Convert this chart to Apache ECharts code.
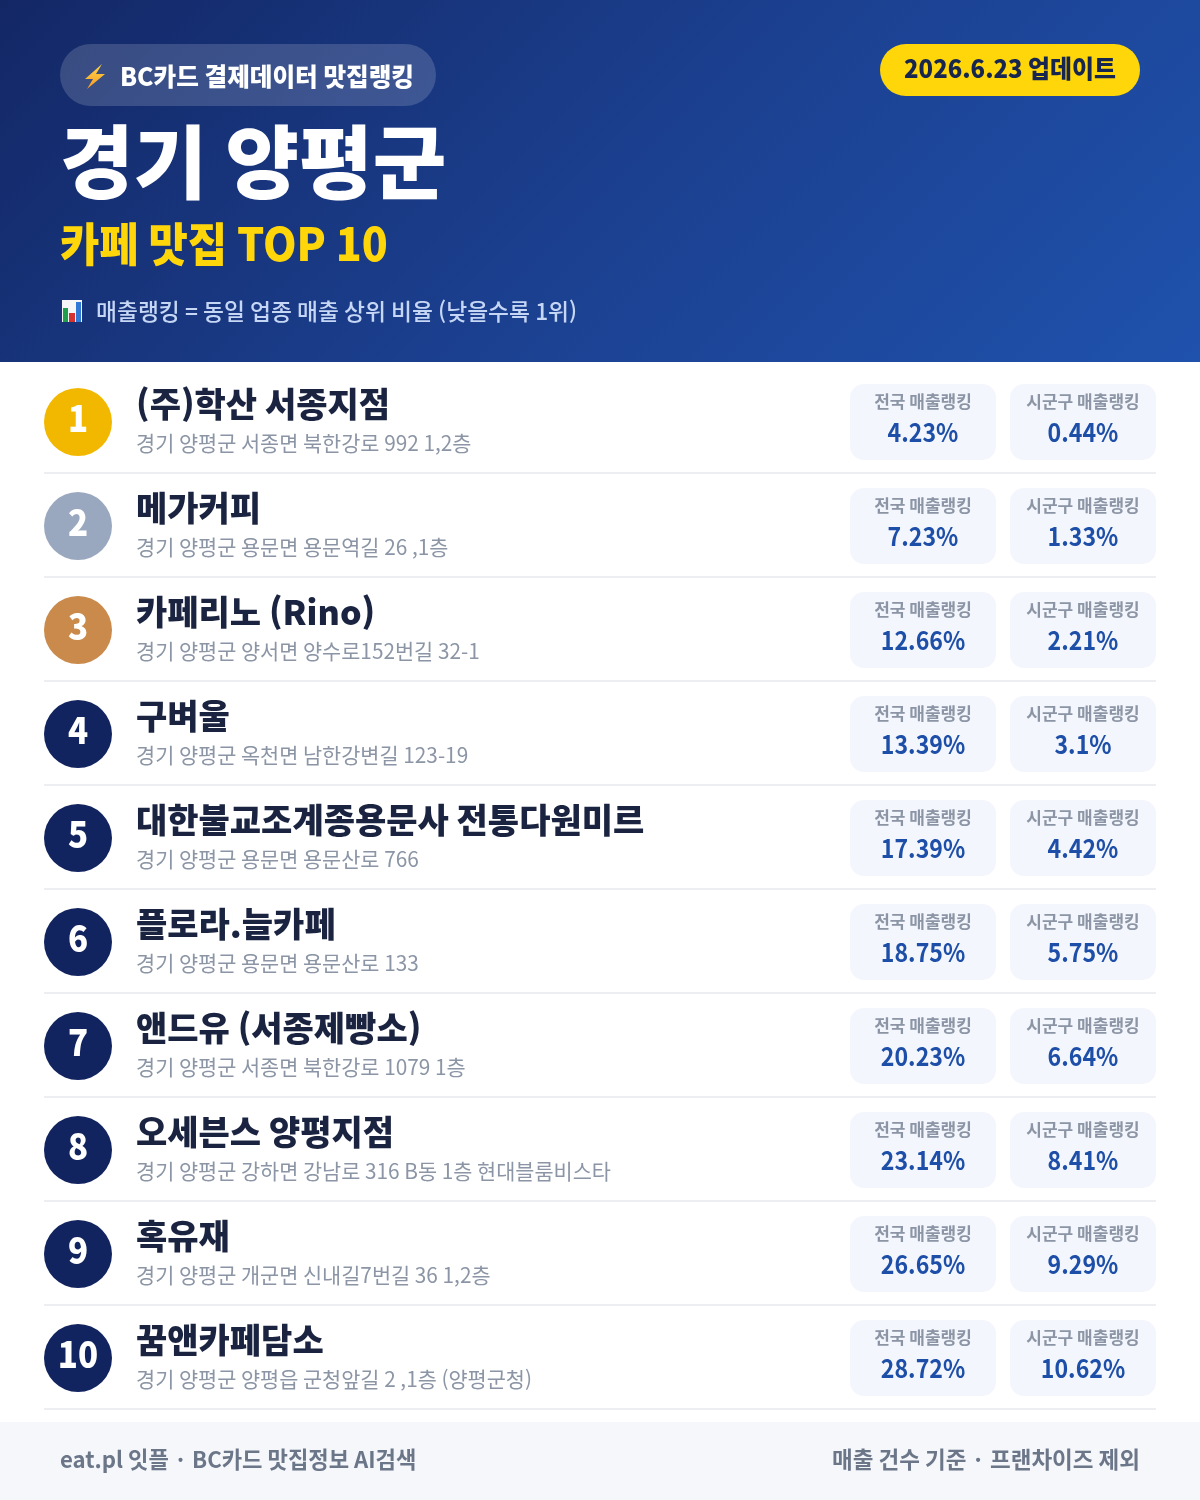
<!DOCTYPE html>
<html lang="ko">
<head>
<meta charset="utf-8">
<title>경기 양평군 카페 맛집 TOP 10</title>
<script src="https://cdn.jsdelivr.net/npm/echarts@6/dist/echarts.min.js"></script>
<style>
html, body { margin: 0; padding: 0; background: #fff; }
#chart { width: 1200px; height: 1500px; }
</style>
</head>
<body>
<div id="chart"></div>
<script>
const ranks = ['1', '2', '3', '4', '5', '6', '7', '8', '9', '10'];
const names = ['(주)학산 서종지점', '메가커피', '카페리노 (Rino)', '구벼울', '대한불교조계종용문사 전통다원미르',
  '플로라.늘카페', '앤드유 (서종제빵소)', '오세븐스 양평지점', '혹유재', '꿈앤카페담소'];
const addresses = ['경기 양평군 서종면 북한강로 992 1,2층', '경기 양평군 용문면 용문역길 26 ,1층', '경기 양평군 양서면 양수로152번길 32-1',
  '경기 양평군 옥천면 남한강변길 123-19', '경기 양평군 용문면 용문산로 766', '경기 양평군 용문면 용문산로 133',
  '경기 양평군 서종면 북한강로 1079 1층', '경기 양평군 강하면 강남로 316 B동 1층 현대블룸비스타', '경기 양평군 개군면 신내길7번길 36 1,2층',
  '경기 양평군 양평읍 군청앞길 2 ,1층 (양평군청)'];
const nationalRank = [4.23, 7.23, 12.66, 13.39, 17.39, 18.75, 20.23, 23.14, 26.65, 28.72];
const localRank = [0.44, 1.33, 2.21, 3.1, 4.42, 5.75, 6.64, 8.41, 9.29, 10.62];
const rankColors = ['#f2b800', '#9aa8bf', '#c98a4b'];

const font = '"Noto Sans CJK KR", "Noto Sans", sans-serif';
const chart = echarts.init(document.getElementById('chart'), null, { renderer: 'canvas' });

// sx squeezes the run a little, the reference's latin and digits are narrower than Noto's
function text(x, y, str, size, weight, fill, align, sx) {
  return {
    type: 'text',
    silent: true,
    x,
    y,
    scaleX: sx || 1,
    style: { x: 0, y: 0, text: str, fontFamily: font, fontSize: size, fontWeight: weight, fill, align: align || 'left', verticalAlign: 'middle' }
  };
}

function card(x, cy, label, value) {
  return [
    { type: 'rect', shape: { x: x, y: cy - 38, width: 146, height: 76, r: 14 }, style: { fill: '#f3f6fc' } },
    text(x + 73, cy - 20.5, label, 17, 700, '#8b95a5', 'center'),
    text(x + 73, cy + 10, value + '%', 26, 700, '#1e4fa8', 'center', 0.89)
  ];
}

function renderRow(params, api) {
  const i = api.value(1);
  const cy = api.coord([0, i])[1];
  const bottom = cy + api.size([0, 1])[1] / 2;
  const left = api.coord([44, i])[0];
  const right = api.coord([1156, i])[0];
  return {
    type: 'group',
    children: [
      { type: 'rect', shape: { x: left, y: bottom - 2, width: right - left, height: 2 }, style: { fill: '#eceef1' } },
      { type: 'circle', shape: { cx: left + 34, cy: cy, r: 34 }, style: { fill: rankColors[i] || '#12245f' } },
      text(left + 34, cy - 4, ranks[i], 36, 800, '#fff', 'center', 0.92),
      text(136, cy - 18, names[i], 34, 800, '#1a2340'),
      text(136, cy + 21, addresses[i], 21, 400, '#8b95a5', 'left', 0.99)
    ].concat(card(850, cy, '전국 매출랭킹', nationalRank[i]), card(1010, cy, '시군구 매출랭킹', localRank[i]))
  };
}

chart.setOption({
  animation: false,
  backgroundColor: '#fff',
  grid: { left: 0, right: 0, top: 370, height: 1040 },
  xAxis: { type: 'value', min: 0, max: 1200, show: false },
  yAxis: { type: 'category', data: ranks, inverse: true, show: false },
  series: [{
    type: 'custom',
    silent: true,
    renderItem: renderRow,
    data: ranks.map((r, i) => [0, i]),
    encode: { x: 0, y: 1 },
    clip: false
  }],
  graphic: [
    // header, same geometry as a css 135deg gradient on 1200x362
    { type: 'rect', silent: true, shape: { x: 0, y: 0, width: 1200, height: 362 },
      style: { fill: new echarts.graphic.LinearGradient(209.5, -209.5, 990.5, 571.5, [{ offset: 0, color: '#132765' }, { offset: 0.5, color: '#1b3f8e' }, { offset: 1, color: '#1f52ad' }], true) } },
    { type: 'rect', silent: true, shape: { x: 60, y: 44, width: 376, height: 62, r: 31 }, style: { fill: 'rgba(255,255,255,0.16)' } },
    { type: 'polygon', silent: true, shape: { points: [[102, 64], [85, 79], [93, 79], [87, 89], [105, 74], [96, 74]] },
      style: { fill: new echarts.graphic.LinearGradient(0, 0, 0, 1, [{ offset: 0, color: '#ffd84a' }, { offset: 1, color: '#f59a23' }]) } },
    text(120, 76, 'BC카드 결제데이터 맛집랭킹', 25, 800, '#fff', 'left', 0.985),
    { type: 'rect', silent: true, shape: { x: 880, y: 44, width: 260, height: 52, r: 26 }, style: { fill: '#ffd60a' } },
    text(1010, 68, '2026.6.23 업데이트', 25, 800, '#16264f', 'center', 0.955),
    text(60, 162, '경기 양평군', 80, 900, '#fff'),
    text(60, 244, '카페 맛집 TOP 10', 46, 900, '#ffd60a', 'left', 0.93),
    { type: 'rect', silent: true, shape: { x: 62, y: 300, width: 20, height: 22 }, style: { fill: '#f4f6f8' } },
    { type: 'rect', silent: true, shape: { x: 63, y: 308, width: 5, height: 14 }, style: { fill: '#1f9e4d' } },
    { type: 'rect', silent: true, shape: { x: 69, y: 313, width: 6, height: 9 }, style: { fill: '#d6322f' } },
    { type: 'rect', silent: true, shape: { x: 76, y: 302, width: 5, height: 20 }, style: { fill: '#2f78d6' } },
    text(96, 311, '매출랭킹 = 동일 업종 매출 상위 비율 (낮을수록 1위)', 23, 500, '#c6d6f5', 'left', 0.99),
    // footer
    { type: 'rect', silent: true, shape: { x: 0, y: 1422, width: 1200, height: 78 }, style: { fill: '#f5f7fb' } },
    text(60, 1459, 'eat.pl 잇플 · BC카드 맛집정보 AI검색', 22.5, 700, '#6b7689', 'left', 0.985),
    text(1140, 1459, '매출 건수 기준 · 프랜차이즈 제외', 22.5, 700, '#6b7689', 'right')
  ]
});
</script>
</body>
</html>
